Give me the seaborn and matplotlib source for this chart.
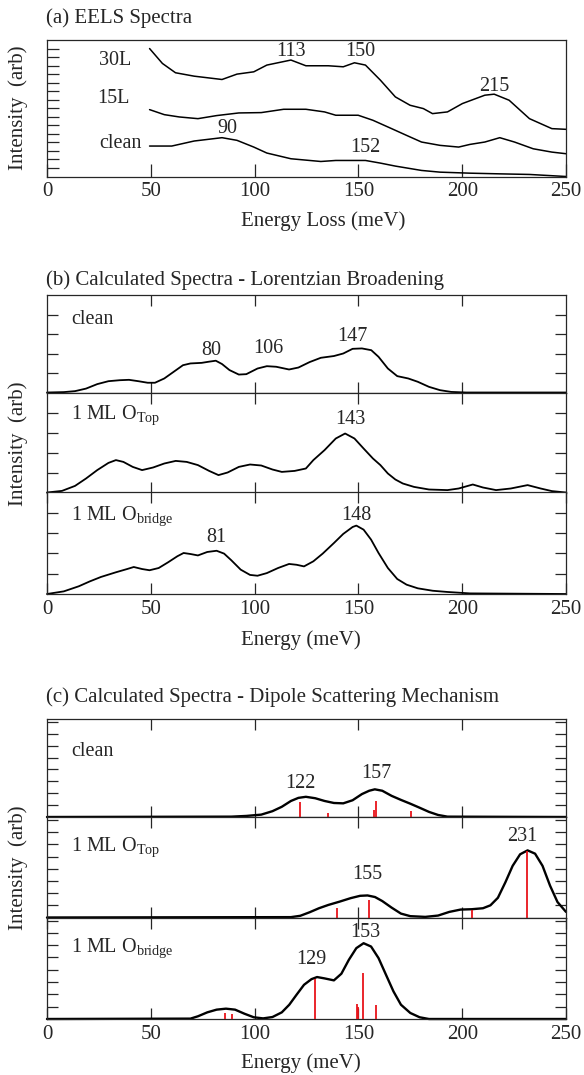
import numpy as np
import pandas as pd
import seaborn as sns
import matplotlib
matplotlib.use("Agg")
import matplotlib.pyplot as plt

sns.set_style("ticks")
plt.rcParams['font.family'] = ['Liberation Serif', 'DejaVu Serif']
plt.rcParams['mathtext.fontset'] = 'custom'
plt.rcParams['mathtext.rm'] = 'Liberation Serif'
plt.rcParams['mathtext.it'] = 'Liberation Serif:italic'

# ---------------- data ----------------
x_ticks = [0, 50, 100, 150, 200, 250]

# (a) EELS spectra
a30_x = [49.4, 55.6, 61.9, 70.9, 84.3, 91.5, 99.6, 105.9, 117.5, 124.7, 135.5, 142.7, 148.1, 153.4,
         160.6, 167.8, 174.9, 181.3, 185.7, 192.9, 200.1, 210.9, 215.4, 222.6, 232.4, 243.2, 250.0]
a30_y = [15.0, 13.25, 12.16, 11.76, 11.37, 12.0, 12.27, 13.06, 13.65, 12.98, 12.98, 12.86, 13.33, 13.06,
         11.29, 9.33, 8.35, 7.96, 7.37, 7.57, 8.55, 9.53, 9.65, 8.94, 6.78, 5.61, 5.53]
a15_x = [49.4, 56.5, 63.7, 72.7, 81.7, 92.4, 103.2, 114.0, 124.7, 133.7, 139.1, 149.9, 157.0, 166.0,
         173.2, 180.4, 189.3, 198.3, 203.7, 210.9, 218.1, 225.2, 234.2, 243.2, 250.0]
a15_y = [7.84, 7.25, 6.98, 6.78, 7.14, 7.45, 7.49, 7.88, 7.88, 7.57, 7.18, 7.18, 6.59, 5.61,
         4.82, 4.04, 3.65, 3.45, 3.76, 4.04, 4.55, 4.04, 3.25, 2.86, 2.67]
aclean_x = [49.4, 60.1, 70.9, 84.3, 91.5, 99.6, 105.9, 117.5, 131.9, 139.1, 153.4, 160.6, 167.8,
            180.4, 189.3, 203.7, 218.1, 232.4, 250.0]
aclean_y = [3.57, 3.57, 4.16, 4.55, 4.24, 3.45, 2.75, 2.08, 1.76, 1.88, 1.88, 1.57, 1.22,
            0.71, 0.51, 0.39, 0.31, 0.24, 0.0]
a_names = ["30L", "15L", "clean"]
a_name_pos = [(33.0, 13.6), (32.2, 9.15), (35.5, 3.85)]
a_peaks = ["113", "150", "215", "90", "152"]
a_peak_pos = [(117.5, 14.6), (150.7, 14.6), (215.4, 10.5), (87.0, 5.6), (153.4, 3.45)]

# (b) Lorentzian broadening
b_clean_x = [0, 8.1, 13.5, 18.8, 24.2, 29.6, 35.0, 39.5, 44.0, 48.5, 52.0, 56.5, 61.0, 65.5, 69.1,
             74.5, 78.0, 81.3, 84.3, 87.9, 92.4, 96.0, 101.4, 105.9, 110.4, 116.6, 121.1, 126.5,
             131.9, 138.2, 142.7, 147.2, 151.7, 156.2, 159.7, 164.2, 168.7, 174.0, 178.6, 184.0,
             189.3, 194.7, 201.9, 250]
b_clean_y = [0, 0.02, 0.07, 0.2, 0.43, 0.58, 0.63, 0.65, 0.58, 0.5, 0.5, 0.72, 1.06, 1.4, 1.49,
             1.52, 1.58, 1.63, 1.46, 1.15, 0.92, 0.94, 1.23, 1.35, 1.32, 1.18, 1.28, 1.56,
             1.78, 1.87, 2.0, 2.24, 2.26, 2.17, 1.83, 1.23, 0.84, 0.72, 0.55, 0.29,
             0.12, 0.03, 0, 0]
b_top_x = [0, 7.2, 13.5, 18.8, 24.2, 29.6, 33.2, 36.8, 41.3, 45.8, 51.1, 56.5, 62.0, 67.3, 72.7,
           78.1, 82.6, 87.0, 92.4, 97.8, 103.2, 108.6, 113.1, 119.3, 124.7, 128.3, 133.7, 139.1,
           143.6, 148.1, 152.5, 157.0, 160.6, 164.2, 167.8, 171.4, 176.8, 184.0, 192.9, 198.3,
           205.1, 210.0, 216.3, 223.4, 231.5, 237.8, 243.2, 250]
b_top_y = [0, 0.08, 0.33, 0.7, 1.12, 1.48, 1.62, 1.53, 1.28, 1.12, 1.25, 1.45, 1.58, 1.53, 1.37,
           1.08, 0.87, 1.0, 1.28, 1.4, 1.35, 1.15, 1.03, 1.08, 1.2, 1.62, 2.12, 2.7,
           2.95, 2.7, 2.2, 1.7, 1.37, 0.95, 0.65, 0.45, 0.28, 0.15, 0.12, 0.2,
           0.4, 0.25, 0.12, 0.2, 0.37, 0.2, 0.07, 0]
b_bri_x = [0, 8.1, 15.3, 20.6, 26.0, 33.2, 38.6, 41.8, 45.8, 49.4, 53.8, 58.3, 62.8, 65.8, 69.1,
           72.7, 77.2, 81.7, 85.3, 88.8, 93.3, 97.8, 101.4, 105.9, 111.3, 116.6, 120.2, 123.8,
           128.3, 132.8, 138.2, 142.7, 147.2, 149.0, 152.5, 156.1, 159.7, 164.2, 168.7, 173.2,
           178.6, 185.8, 192.9, 203.7, 250]
b_bri_y = [0, 0.13, 0.38, 0.62, 0.84, 1.07, 1.23, 1.33, 1.23, 1.17, 1.28, 1.56, 1.86, 2.02, 1.97,
           1.9, 2.07, 2.13, 1.99, 1.66, 1.2, 0.94, 0.9, 1.03, 1.28, 1.48, 1.44, 1.36,
           1.61, 1.99, 2.51, 2.96, 3.3, 3.37, 3.17, 2.68, 2.02, 1.28, 0.74, 0.46,
           0.28, 0.16, 0.1, 0.03, 0]
b_names = ["clean", r"1 ML O$_{\mathrm{Top}}$", r"1 ML O$_{\mathrm{bridge}}$"]
b_name_y = [3.72, 3.85, 3.85]
b_peaks = [["80", "106", "147"], ["143"], ["81", "148"]]
b_peak_pos = [[(79.0, 2.17), (106.8, 2.26), (147.2, 2.86)], [(146.0, 3.65)], [(81.7, 2.78), (149.0, 3.85)]]

# (c) Dipole scattering mechanism
c_clean_x = [0, 88.8, 96.0, 103.2, 108.6, 113.1, 117.5, 121.1, 124.7, 129.2, 133.7, 138.2, 142.7,
             147.2, 151.7, 155.2, 157.9, 161.5, 166.0, 170.5, 175.0, 179.5, 184.0, 188.4, 192.9, 250]
c_clean_y = [0, 0.03, 0.09, 0.2, 0.49, 0.86, 1.35, 1.61, 1.7, 1.58, 1.35, 1.18, 1.15,
             1.41, 1.93, 2.21, 2.33, 2.21, 1.78, 1.44, 1.12, 0.78, 0.43, 0.17, 0.03, 0]
c_clean_sx = [122.0, 135.5, 157.6, 158.3, 175.5]
c_clean_sy = [1.26, 0.34, 0.57, 1.35, 0.49]
c_top_x = [0, 117.5, 122.0, 126.5, 131.0, 135.5, 140.9, 146.3, 150.8, 154.4, 158.0, 161.5, 166.0,
           170.5, 175.0, 182.2, 188.4, 193.8, 199.2, 204.6, 210.0, 213.6, 217.2, 220.8, 224.3,
           227.9, 231.5, 235.1, 238.7, 242.3, 245.9, 250]
c_top_y = [0, 0.03, 0.14, 0.43, 0.76, 1.03, 1.3, 1.59, 1.78, 1.81, 1.68, 1.35, 0.81,
           0.32, 0.11, 0.05, 0.16, 0.46, 0.65, 0.68, 0.76, 1.0, 1.62, 2.89, 4.24,
           5.19, 5.51, 5.24, 4.24, 2.62, 1.27, 0.46]
c_top_sx = [139.6, 154.9, 204.6, 231.2]
c_top_sy = [0.81, 1.41, 0.65, 5.46]
c_bri_x = [0, 69.1, 72.7, 77.2, 81.7, 86.2, 90.6, 95.1, 99.6, 104.1, 108.6, 113.1, 116.7, 120.2,
           123.8, 127.4, 130.1, 133.7, 138.2, 141.8, 145.4, 149.0, 152.5, 156.1, 159.7, 163.3,
           166.9, 170.5, 175.0, 179.5, 184.0, 250]
c_bri_y = [0, 0.03, 0.22, 0.54, 0.76, 0.84, 0.76, 0.43, 0.14, 0.05, 0.16, 0.54, 1.16, 1.97,
           2.78, 3.24, 3.41, 3.3, 3.14, 3.68, 4.81, 5.76, 6.16, 5.89, 4.95, 3.59,
           2.24, 1.16, 0.49, 0.14, 0, 0]
c_bri_sx = [85.6, 89.2, 129.2, 149.3, 150.0, 152.2, 158.3]
c_bri_sy = [0.49, 0.43, 3.24, 1.24, 1.0, 3.7, 1.1]
c_names = ["clean", r"1 ML O$_{\mathrm{Top}}$", r"1 ML O$_{\mathrm{bridge}}$"]
c_name_y = [5.5, 5.73, 5.76]
c_peaks = [["122", "157"], ["155", "231"], ["129", "153"]]
c_peak_pos = [[(122.0, 2.8), (158.8, 3.65)], [(154.3, 3.57), (228.8, 6.68)], [(127.4, 4.8), (153.4, 7.05)]]

# ---------------- figure ----------------
W, H = 584, 1075
fig = plt.figure(figsize=(W / 100, H / 100), dpi=100)
L, R = 47, 566
FS_LAB = 14.5
FS_NUM = 14.5
FS_TICK = 15
FS_AX = 15


def axes_px(top, bottom):
    return fig.add_axes([L / W, 1 - bottom / H, (R - L) / W, (bottom - top) / H])


def curve(ax, xs, ys, lw):
    df = pd.DataFrame({"x": xs, "y": ys})
    sns.lineplot(data=df, x="x", y="y", ax=ax, color="black", lw=lw,
                 estimator=None, sort=False, clip_on=False)
    ax.set_xlabel("")
    ax.set_ylabel("")


# ---- (a)
ax = axes_px(40, 176.5)
curve(ax, a30_x, a30_y, 1.1)
curve(ax, a15_x, a15_y, 1.1)
curve(ax, aclean_x, aclean_y, 1.1)
ax.set_xlim(0, 250)
ax.set_ylim(0, 16)
ax.set_xticks(x_ticks)
ax.set_yticks(range(1, 16))
ax.set_yticklabels([])
ax.tick_params(axis="y", direction="in", length=8.5, width=0.9, left=True, right=False)
ax.tick_params(axis="x", direction="in", length=9.5, width=0.9, pad=4, labelsize=FS_TICK)
for (nx, ny), nm in zip(a_name_pos, a_names):
    ax.text(nx, ny, nm, ha="center", va="center", fontsize=FS_LAB)
for (px, py), pk in zip(a_peak_pos, a_peaks):
    ax.text(px, py, pk, ha="center", va="center", fontsize=FS_NUM)
for s in ax.spines.values():
    s.set_linewidth(0.9)

fig.text(46 / W, 1 - 18 / H, "(a) EELS Spectra", ha="left", va="center", fontsize=FS_AX)
fig.text(323 / W, 1 - 221 / H, "Energy Loss (meV)", ha="center", va="center", fontsize=FS_AX)
fig.text(18 / W, 1 - 108 / H, "Intensity  (arb)", rotation=90, ha="center", va="center", fontsize=FS_AX)

# ---- (b)
b_bounds = [(295, 392.5), (392.5, 492.5), (492.5, 594)]
b_curves = [(b_clean_x, b_clean_y), (b_top_x, b_top_y), (b_bri_x, b_bri_y)]
for i, ((t, b), (cx, cy)) in enumerate(zip(b_bounds, b_curves)):
    ax = axes_px(t, b)
    curve(ax, cx, cy, 1.3)
    ax.set_xlim(0, 250)
    ax.set_ylim(0, 5)
    ax.set_xticks([50, 100, 150, 200] if i < 2 else x_ticks)
    ax.set_yticks([1, 2, 3, 4])
    ax.set_yticklabels([])
    ax.tick_params(axis="both", direction="in", length=8, width=0.9,
                   left=True, right=True, top=True, bottom=True)
    if i < 2:
        ax.set_xticklabels([])
    else:
        ax.tick_params(axis="x", pad=4, labelsize=FS_TICK)
    ax.text(11.5, b_name_y[i], b_names[i], ha="left", va="center", fontsize=FS_LAB)
    for (px, py), pk in zip(b_peak_pos[i], b_peaks[i]):
        ax.text(px, py, pk, ha="center", va="center", fontsize=FS_NUM)
    for s in ax.spines.values():
        s.set_linewidth(0.9)

fig.text(46 / W, 1 - 280 / H, "(b) Calculated Spectra - Lorentzian Broadening",
         ha="left", va="center", fontsize=FS_AX)
fig.text(301 / W, 1 - 640 / H, "Energy (meV)", ha="center", va="center", fontsize=FS_AX)
fig.text(18 / W, 1 - 444 / H, "Intensity  (arb)", rotation=90, ha="center", va="center", fontsize=FS_AX)

# ---- (c)
c_bounds = [(719, 817), (817, 917.5), (917.5, 1019)]
c_curves = [(c_clean_x, c_clean_y), (c_top_x, c_top_y), (c_bri_x, c_bri_y)]
c_sticks = [(c_clean_sx, c_clean_sy), (c_top_sx, c_top_sy), (c_bri_sx, c_bri_sy)]
for i, ((t, b), (cx, cy), (sx, sy)) in enumerate(zip(c_bounds, c_curves, c_sticks)):
    ax = axes_px(t, b)
    ax.vlines(sx, 0, sy, colors="#e8141a", lw=1.3, zorder=3)
    curve(ax, cx, cy, 1.7)
    ax.set_xlim(0, 250)
    ax.set_ylim(0, 8.25)
    ax.set_xticks([50, 100, 150, 200] if i < 2 else x_ticks)
    ax.set_yticks(range(1, 9))
    ax.set_yticklabels([])
    ax.tick_params(axis="both", direction="in", length=8, width=0.9,
                   left=True, right=True, top=True, bottom=True)
    if i < 2:
        ax.set_xticklabels([])
    else:
        ax.tick_params(axis="x", pad=4, labelsize=FS_TICK)
    ax.text(11.5, c_name_y[i], c_names[i], ha="left", va="center", fontsize=FS_LAB)
    for (px, py), pk in zip(c_peak_pos[i], c_peaks[i]):
        ax.text(px, py, pk, ha="center", va="center", fontsize=FS_NUM)
    for s in ax.spines.values():
        s.set_linewidth(0.9)

fig.text(46 / W, 1 - 697 / H, "(c) Calculated Spectra - Dipole Scattering Mechanism",
         ha="left", va="center", fontsize=FS_AX)
fig.text(301 / W, 1 - 1063 / H, "Energy (meV)", ha="center", va="center", fontsize=FS_AX)
fig.text(18 / W, 1 - 868 / H, "Intensity  (arb)", rotation=90, ha="center", va="center", fontsize=FS_AX)

fig.savefig("out.png", dpi=100, facecolor="white")
